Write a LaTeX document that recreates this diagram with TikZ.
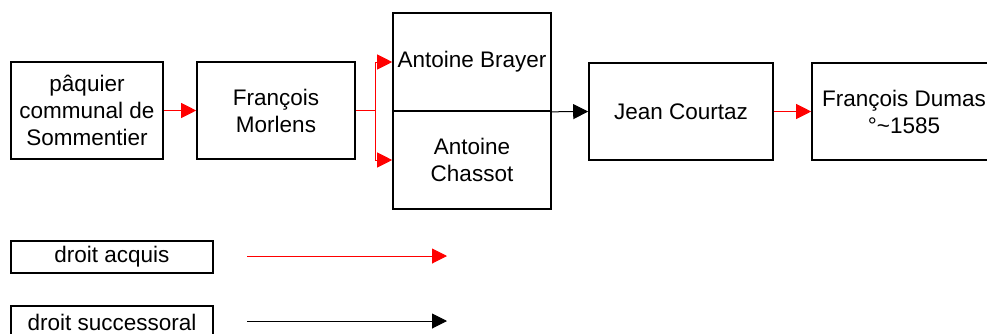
\documentclass[tikz,border=0pt]{standalone}
\usepackage{fontspec}
\setmainfont{Liberation Sans}
\usetikzlibrary{arrows.meta}
\begin{document}
\begin{tikzpicture}[x=1pt,y=-1pt,
  box/.style={draw=black,line width=1.6pt,rectangle,inner sep=0pt,align=center,
    font=\fontsize{22.5}{27}\selectfont},
  acq/.style={draw=red,line width=1pt,-{Triangle[length=15pt,width=15pt]}},
  succ/.style={draw=black,line width=1pt,-{Triangle[length=15pt,width=15pt]}},
  acqline/.style={draw=red,line width=1pt}]
\useasboundingbox (0,0) rectangle (987,333);
\fill[white] (0,0) rectangle (987,333);
\node[box,minimum width=152pt,minimum height=97pt] (paq) at (87,110.5) {pâquier\\communal de\\Sommentier};
\node[box,minimum width=158pt,minimum height=97pt] (mor) at (276,110.5) {François\\Morlens};
\node[box,minimum width=158pt,minimum height=98pt] (bra) at (472,62) {Antoine Brayer};
\node[box,minimum width=158pt,minimum height=98pt] (cha) at (472,160) {Antoine\\Chassot};
\node[box,minimum width=184pt,minimum height=97pt] (jea) at (681,111.5) {Jean Courtaz};
\node[box,minimum width=184pt,minimum height=97pt] (dum) at (904,111.5) {François Dumas\\°\textasciitilde1585};
\node[box,minimum width=202pt,minimum height=32pt] (l1) at (112,257) {droit acquis};
\node[box,minimum width=202pt,minimum height=32pt] (l2) at (112,322) {droit successoral};
\coordinate (fork) at (375,110.5);
\coordinate (a1s) at (247,256);
\coordinate (a1e) at (447,256);
\coordinate (a2s) at (247,321);
\coordinate (a2e) at (447,321);
\draw[acq] (paq.east) -- (mor.west);
\draw[acqline] (mor.east) -- (fork);
\draw[acq] (fork) |- (bra.west);
\draw[acq] (fork) |- (cha.west);
\draw[succ] (bra.south east) -- (jea.west);
\draw[acq] (jea.east) -- (dum.west);
\draw[acq] (a1s) -- (a1e);
\draw[succ] (a2s) -- (a2e);
\end{tikzpicture}
\end{document}
